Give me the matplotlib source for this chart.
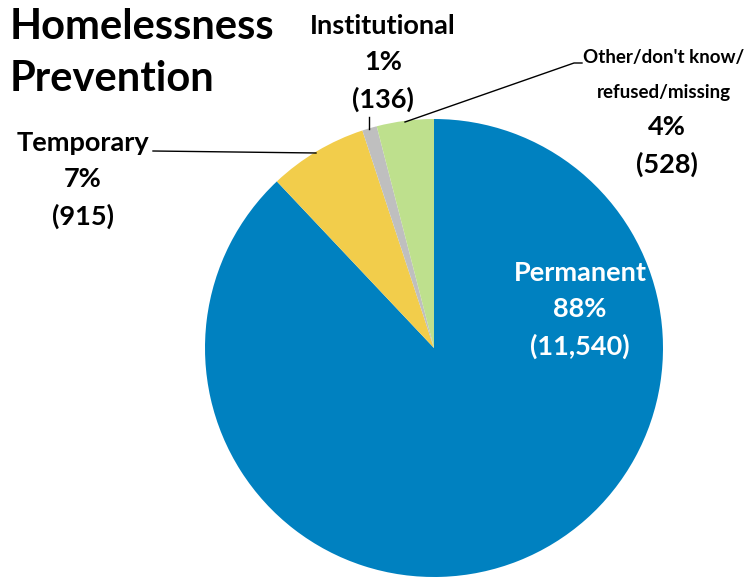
import matplotlib
matplotlib.use("Agg")
import matplotlib.pyplot as plt

# destination categories for homelessness prevention exits
categories = ["Permanent", "Temporary", "Institutional", "Other/don't know/\nrefused/missing"]
counts = [11540, 915, 136, 528]
colors = ["#0081C0", "#F2CD4B", "#BFBFBF", "#BEE08D"]

W, H = 744, 578
plt.rcParams['font.family'] = ['Lato', 'DejaVu Sans']


def py(y):
    # convert a top-down pixel row into axes units
    return H - y


fig = plt.figure(figsize=(W / 100, H / 100), dpi=100)
ax = fig.add_axes([0, 0, 1, 1])

ax.pie(counts, colors=colors, startangle=90, counterclock=False,
       center=(434, py(348)), radius=229, frame=True,
       wedgeprops=dict(linewidth=0))
ax.set_xlim(0, W)
ax.set_ylim(0, H)
ax.set_aspect('equal')
ax.axis('off')

total = sum(counts)
pcts = [round(100 * c / total) for c in counts]


def label(i):
    return f"{categories[i]}\n{pcts[i]}%\n({counts[i]:,})"


fw = 'bold'
ls = 1.58

# title
ax.text(10, py(8), "Homelessness\nPrevention", fontsize=30, fontweight=fw,
        ha='left', va='top', linespacing=1.45)

# slice labels
ax.text(580, py(310), label(0), fontsize=19.5, fontweight=fw, color='white',
        ha='center', va='center', linespacing=ls)
ax.text(83, py(180), label(1), fontsize=19.5, fontweight=fw, color='black',
        ha='center', va='center', linespacing=ls)
ax.text(383, py(63), label(2), fontsize=19.5, fontweight=fw, color='black',
        ha='center', va='center', linespacing=ls)
ax.text(664, py(75), categories[3], fontsize=13.5, fontweight=fw, color='black',
        ha='center', va='center', linespacing=2.25)
ax.text(667, py(146), f"{pcts[3]}%\n({counts[3]:,})", fontsize=19.5, fontweight=fw,
        color='black', ha='center', va='center', linespacing=ls)

# leader lines
ax.plot([153, 316], [py(151), py(153)], color='black', lw=1)
ax.plot([369, 369], [py(117), py(129)], color='black', lw=1)
ax.plot([405, 574, 582], [py(122), py(63), py(63)], color='black', lw=1)

fig.savefig("out.png", dpi=100)
